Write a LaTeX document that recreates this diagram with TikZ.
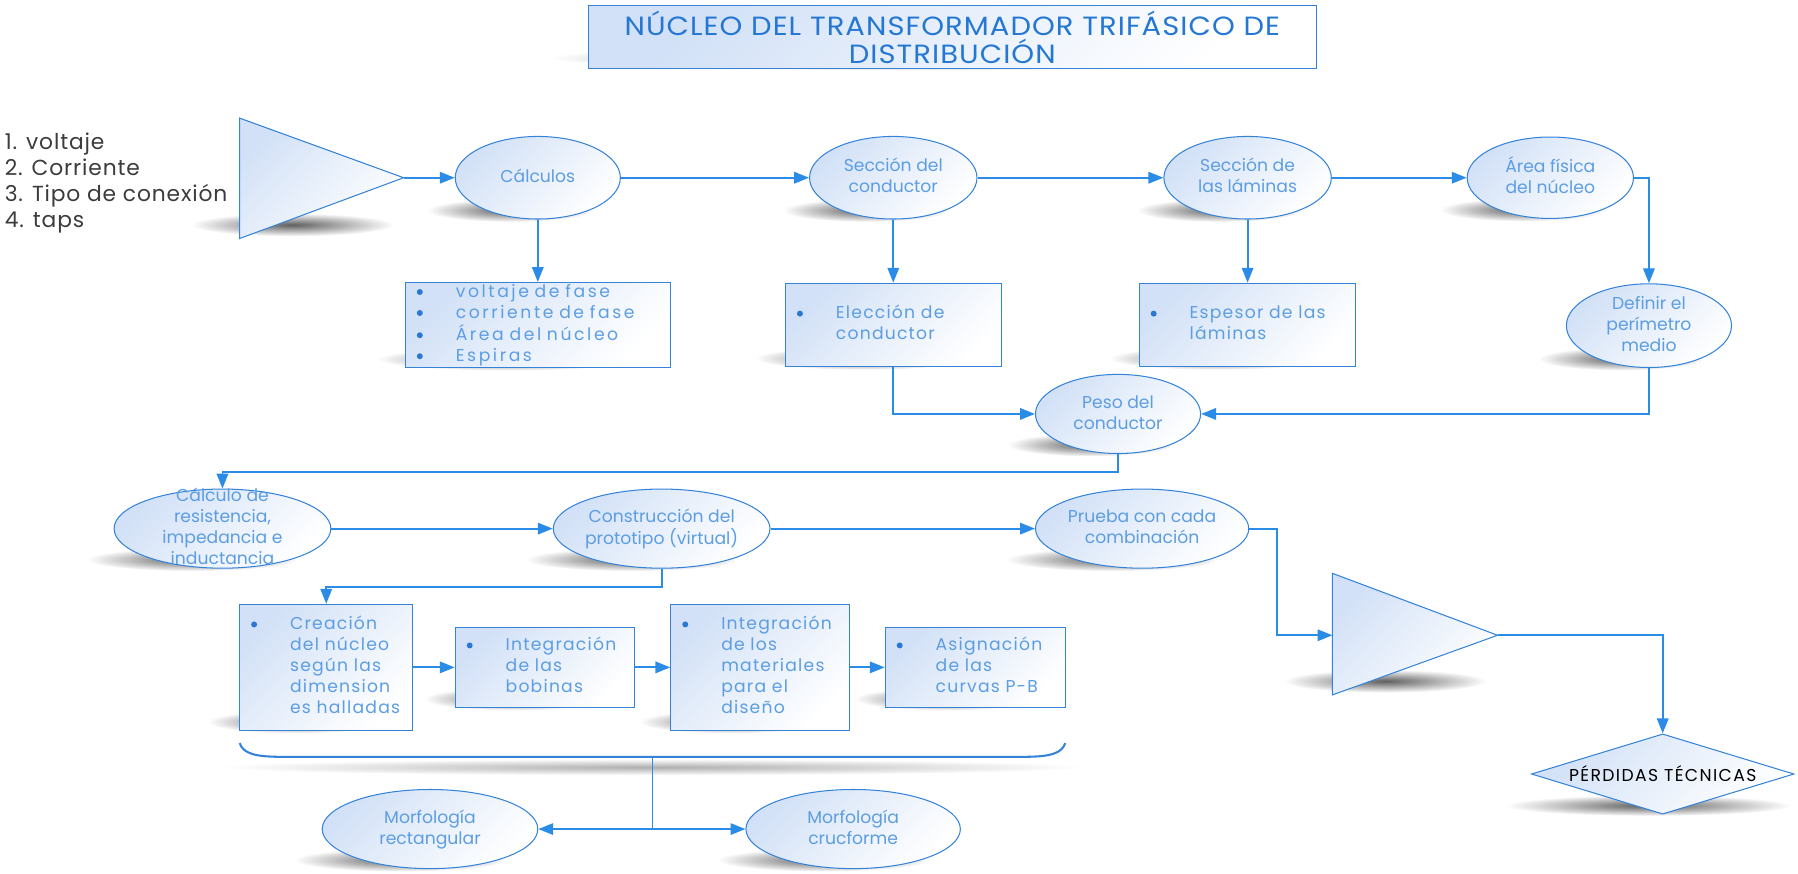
\documentclass[tikz,border=0pt]{standalone}
\usepackage{fontspec}
\setmainfont{Poppins}
\usetikzlibrary{arrows.meta,shapes.geometric,calc,fadings,backgrounds}

\definecolor{lineblue}{HTML}{2B8CE8}
\definecolor{bordblue}{HTML}{3483D9}
\definecolor{txtblue}{HTML}{5C9DE3}
\definecolor{titleblue}{HTML}{2477D2}
\definecolor{fillblue}{HTML}{D2E1F7}
\definecolor{bulblue}{HTML}{2A78D0}
\definecolor{shadowc}{HTML}{606060}
\definecolor{listc}{HTML}{3C3C3C}

\tikzfading[name=shfade, inner color=transparent!0, outer color=transparent!100]

\newcommand\nodefont{\fontsize{15pt}{18.3pt}\selectfont}
\newcommand\boxfont{\fontsize{15pt}{18.3pt}\selectfont\addfontfeatures{LetterSpace=7}}
\newcommand\wideboxfont{\fontsize{15pt}{18.3pt}\selectfont\addfontfeatures{LetterSpace=15}}
\newcommand\titlefont{\fontsize{23pt}{24pt}\selectfont\addfontfeatures{FakeStretch=1.1,LetterSpace=4}}
\newcommand\listfont{\fontsize{19pt}{22.7pt}\selectfont\addfontfeatures{LetterSpace=4}}
\newcommand\diafont{\fontsize{15pt}{18pt}\selectfont\addfontfeatures{LetterSpace=8}}
\newcommand\et[1]{\makebox[0pt]{\raisebox{-4pt}[0pt][0pt]{\begin{tabular}{@{}c@{}}#1\end{tabular}}}}
\newcommand\bl{\tikz[baseline={(0pt,-4.5pt)}]\fill[bulblue] (2.6pt,0pt) circle[radius=2.6pt];}
\newcommand\bt[1]{\begin{tabular}{@{}p{34pt}@{}l@{}}#1\end{tabular}}
\newcommand\shad[5]{\fill[shadowc,path fading=shfade] ($(#1)+(#2,#3)$) ellipse [x radius=#4pt, y radius=#5pt];}

\tikzset{
 gfill/.style={top color=fillblue, bottom color=white, shading angle=45},
 ell/.style={ellipse, draw=bordblue, line width=0.9pt, gfill, inner sep=0pt, text=txtblue, font=\nodefont},
 bx/.style={rectangle, draw=bordblue, line width=0.9pt, gfill, inner xsep=10pt, inner ysep=0pt, text=txtblue, font=\boxfont, align=left},
 conn/.style={draw=lineblue, line width=1.6pt},
 arr/.style={conn, -{Triangle[length=13pt,width=10pt]}},
 tri/.style={draw=bordblue, line width=0.9pt, gfill},
}

\begin{document}
\begin{tikzpicture}[x=1pt,y=-1pt]
\useasboundingbox (0,0) rectangle (1568,762);

% title
\node[draw=bordblue, line width=0.9pt, gfill, minimum width=635pt, minimum height=55pt, inner sep=0pt,
      text=titleblue, font=\titlefont, align=center] (title) at (830.5,32.5)
      {NÚCLEO DEL TRANSFORMADOR TRIFÁSICO DE\\DISTRIBUCIÓN};

% inputs list
\node[anchor=west, inner sep=0pt, text=listc, font=\listfont, align=left] (inputs) at (4,160)
      {1. voltaje\\2. Corriente\\3. Tipo de conexión\\4. taps};

% triangle 1
\coordinate (t1top) at (209,103);
\coordinate (t1bot) at (209,208);
\coordinate (t1a) at (352,155);
\draw[tri] (t1top) -- (t1a) -- (t1bot) -- cycle;

% top row ellipses
\node[ell, minimum width=144pt, minimum height=72pt] (calc) at (469,155) {\et{Cálculos}};
\node[ell, minimum width=146pt, minimum height=72pt] (secc) at (779,155) {\et{Sección del\\conductor}};
\node[ell, minimum width=146pt, minimum height=72pt] (lam) at (1088,155) {\et{Sección de\\las láminas}};
\node[ell, minimum width=145pt, minimum height=71pt] (area) at (1352,155) {\et{Área física\\del núcleo}};
\node[ell, minimum width=144pt, minimum height=73pt] (def) at (1438,284) {\et{Definir el\\perímetro\\medio}};

% boxes row 2
\node[bx, font=\wideboxfont, text width=211pt, minimum height=73pt] (b1) at (469,283.5)
  {\bt{\bl & voltaje de fase\\ \bl & corriente de fase\\ \bl & Área del núcleo\\ \bl & Espiras}};
\node[bx, text width=168pt, minimum height=73pt] (b2) at (779,283.5)
  {\bt{\bl & Elección de\\ & conductor}};
\node[bx, text width=169pt, minimum height=73pt] (b3) at (1088,283.5)
  {\bt{\bl & Espesor de las\\ & láminas}};

\node[ell, minimum width=144pt, minimum height=69pt] (peso) at (975,361) {\et{Peso del\\conductor}};

% third row
\node[ell, minimum width=189pt, minimum height=69pt] (res) at (194,461) {\et{Cálculo de\\resistencia,\\impedancia e\\inductancia}};
\node[ell, minimum width=189pt, minimum height=69pt] (cons) at (577,461) {\et{Construcción del\\prototipo (virtual)}};
\node[ell, minimum width=186pt, minimum height=69pt] (prue) at (996,461) {\et{Prueba con cada\\combinación}};

% triangle 2
\coordinate (t2top) at (1162,500);
\coordinate (t2bot) at (1162,606);
\coordinate (t2l) at (1162,554);
\coordinate (t2a) at (1306,554);
\draw[tri] (t2top) -- (t2a) -- (t2bot) -- cycle;

% diamond
\node[diamond, draw=bordblue, line width=0.9pt, gfill, aspect=3.27, minimum width=229pt, minimum height=70pt,
      inner sep=0pt, text=black, font=\diafont] (dia) at (1450,675) {PÉRDIDAS TÉCNICAS};

% fourth row boxes
\node[bx, text width=131pt, minimum height=110pt] (c1) at (284.5,582)
  {\bt{\bl & Creación\\ & del núcleo\\ & según las\\ & dimension\\ & es halladas}};
\node[bx, text width=136pt, minimum height=70pt] (c2) at (475,582)
  {\bt{\bl & Integración\\ & de las\\ & bobinas}};
\node[bx, text width=136pt, minimum height=110pt] (c3) at (663,582)
  {\bt{\bl & Integración\\ & de los\\ & materiales\\ & para el\\ & diseño}};
\node[bx, text width=137pt, minimum height=70pt] (c4) at (850.5,582)
  {\bt{\bl & Asignación\\ & de las\\ & curvas P-B}};

% brace
\coordinate (brL) at (209,648);
\coordinate (brR) at (929,648);
\coordinate (bracemid) at (569,660);
\coordinate (mj) at (569,723);
\draw[draw=bordblue, line width=1.8pt] (brL) .. controls (212,657) and (222,660) .. (245,660) -- (893,660) .. controls (916,660) and (926,657) .. (brR);

\node[ell, minimum width=188pt, minimum height=69pt] (mr) at (375,723) {\et{Morfología\\rectangular}};
\node[ell, minimum width=187pt, minimum height=69pt] (mc) at (744,723) {\et{Morfología\\crucforme}};

% connectors
\draw[arr] (t1a) -- (calc.west);
\draw[arr] (calc.east) -- (secc.west);
\draw[arr] (secc.east) -- (lam.west);
\draw[arr] (lam.east) -- (area.west);
\draw[arr] (area.east) -| (def.north);
\draw[arr] (calc.south) -- (b1.north);
\draw[arr] (secc.south) -- (b2.north);
\draw[arr] (lam.south) -- (b3.north);
\draw[arr] (b2.south) |- (peso.west);
\draw[arr] (def.south) |- (peso.east);
\draw[arr] (peso.south) -- ++(0,16) -| (res.north);
\draw[arr] (res.east) -- (cons.west);
\draw[arr] (cons.east) -- (prue.west);
\draw[arr] (prue.east) -- ++(24,0) |- (t2l);
\draw[arr] (t2a) -| (dia.north);
\draw[arr] (cons.south) -- ++(0,16) -| (c1.north);
\draw[arr] (c1.east) -- (c2.west);
\draw[arr] (c2.east) -- (c3.west);
\draw[arr] (c3.east) -- (c4.west);
\draw[conn] (bracemid) -- (mj);
\draw[arr] (mj) -- (mr.east);
\draw[arr] (mj) -- (mc.west);

% background and shadows
\begin{scope}[on background layer]
\fill[white] (0,0) rectangle (1568,762);
\shad{title.south}{-30}{-10}{320}{11}
\shad{t1bot}{46}{-12}{88}{10}
\shad{t2bot}{46}{-12}{88}{10}
\shad{calc.south}{-24}{-8}{72}{10}
\shad{secc.south}{-24}{-8}{72}{10}
\shad{lam.south}{-24}{-8}{72}{10}
\shad{area.south}{-24}{-8}{72}{10}
\shad{def.south}{-24}{-8}{72}{10}
\shad{peso.south}{-24}{-8}{72}{10}
\shad{res.south}{-26}{-8}{92}{10}
\shad{cons.south}{-26}{-8}{92}{10}
\shad{prue.south}{-26}{-8}{92}{10}
\shad{mr.south}{-26}{-8}{92}{10}
\shad{mc.south}{-26}{-8}{92}{10}
\shad{b1.south}{-26}{-8}{114}{10}
\shad{b2.south}{-26}{-8}{94}{10}
\shad{b3.south}{-26}{-8}{94}{10}
\shad{c1.south}{-26}{-8}{77}{10}
\shad{c2.south}{-26}{-8}{79}{10}
\shad{c3.south}{-26}{-8}{79}{10}
\shad{c4.south}{-26}{-8}{79}{10}
\shad{dia.south}{-12}{-8}{124}{9}
\fill[shadowc!50,path fading=shfade] ($(bracemid)+(0,9)$) ellipse [x radius=375pt, y radius=7pt];
\end{scope}
\end{tikzpicture}
\end{document}
